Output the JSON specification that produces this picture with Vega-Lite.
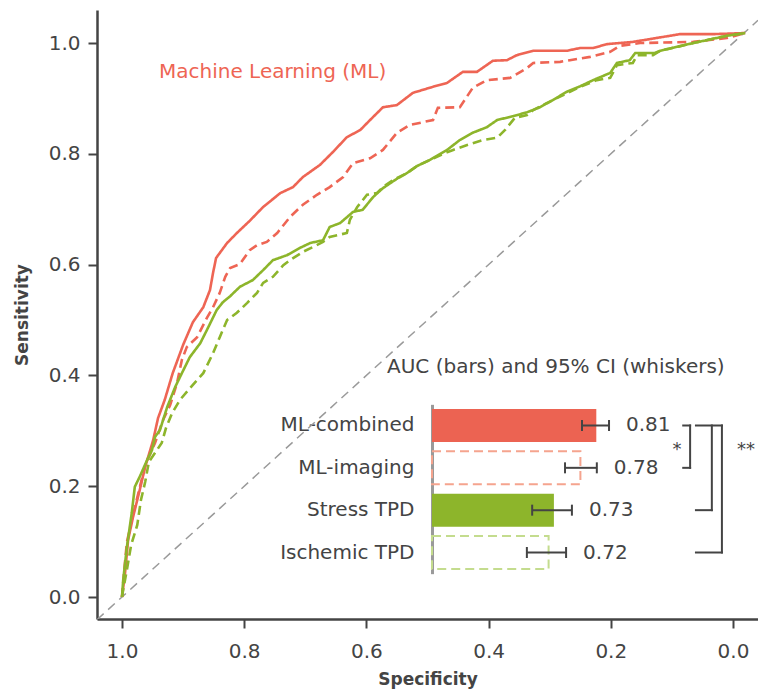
{
  "$schema": "https://vega.github.io/schema/vega-lite/v6.json",
  "width": 661,
  "height": 609,
  "autosize": "none",
  "padding": {"left": 97, "top": 10, "right": 0, "bottom": 77},
  "background": "white",
  "config": {
    "view": {"stroke": null},
    "font": "DejaVu Sans",
    "text": {"font": "DejaVu Sans"},
    "axis": {"labelFont": "DejaVu Sans", "titleFont": "DejaVu Sans"}
  },
  "datasets": {
    "roc": [
      {"model": "ML-combined", "spec": 1.000, "sens": 0.000},
      {"model": "ML-combined", "spec": 0.995, "sens": 0.043},
      {"model": "ML-combined", "spec": 0.990, "sens": 0.103},
      {"model": "ML-combined", "spec": 0.982, "sens": 0.144},
      {"model": "ML-combined", "spec": 0.971, "sens": 0.193},
      {"model": "ML-combined", "spec": 0.962, "sens": 0.235},
      {"model": "ML-combined", "spec": 0.949, "sens": 0.283},
      {"model": "ML-combined", "spec": 0.941, "sens": 0.323},
      {"model": "ML-combined", "spec": 0.930, "sens": 0.356},
      {"model": "ML-combined", "spec": 0.917, "sens": 0.404},
      {"model": "ML-combined", "spec": 0.900, "sens": 0.455},
      {"model": "ML-combined", "spec": 0.884, "sens": 0.496},
      {"model": "ML-combined", "spec": 0.867, "sens": 0.523},
      {"model": "ML-combined", "spec": 0.856, "sens": 0.554},
      {"model": "ML-combined", "spec": 0.851, "sens": 0.585},
      {"model": "ML-combined", "spec": 0.846, "sens": 0.612},
      {"model": "ML-combined", "spec": 0.828, "sens": 0.639},
      {"model": "ML-combined", "spec": 0.812, "sens": 0.657},
      {"model": "ML-combined", "spec": 0.791, "sens": 0.679},
      {"model": "ML-combined", "spec": 0.769, "sens": 0.704},
      {"model": "ML-combined", "spec": 0.741, "sens": 0.729},
      {"model": "ML-combined", "spec": 0.720, "sens": 0.740},
      {"model": "ML-combined", "spec": 0.704, "sens": 0.758},
      {"model": "ML-combined", "spec": 0.676, "sens": 0.780},
      {"model": "ML-combined", "spec": 0.655, "sens": 0.803},
      {"model": "ML-combined", "spec": 0.632, "sens": 0.830},
      {"model": "ML-combined", "spec": 0.610, "sens": 0.843},
      {"model": "ML-combined", "spec": 0.594, "sens": 0.861},
      {"model": "ML-combined", "spec": 0.573, "sens": 0.884},
      {"model": "ML-combined", "spec": 0.550, "sens": 0.888},
      {"model": "ML-combined", "spec": 0.524, "sens": 0.910},
      {"model": "ML-combined", "spec": 0.491, "sens": 0.921},
      {"model": "ML-combined", "spec": 0.468, "sens": 0.928},
      {"model": "ML-combined", "spec": 0.442, "sens": 0.948},
      {"model": "ML-combined", "spec": 0.419, "sens": 0.948},
      {"model": "ML-combined", "spec": 0.393, "sens": 0.968},
      {"model": "ML-combined", "spec": 0.370, "sens": 0.969},
      {"model": "ML-combined", "spec": 0.354, "sens": 0.978},
      {"model": "ML-combined", "spec": 0.327, "sens": 0.986},
      {"model": "ML-combined", "spec": 0.272, "sens": 0.986},
      {"model": "ML-combined", "spec": 0.250, "sens": 0.991},
      {"model": "ML-combined", "spec": 0.229, "sens": 0.991},
      {"model": "ML-combined", "spec": 0.206, "sens": 0.998},
      {"model": "ML-combined", "spec": 0.164, "sens": 1.002},
      {"model": "ML-combined", "spec": 0.087, "sens": 1.016},
      {"model": "ML-combined", "spec": 0.033, "sens": 1.016},
      {"model": "ML-combined", "spec": -0.020, "sens": 1.018},

      {"model": "ML-imaging", "spec": 1.000, "sens": 0.000},
      {"model": "ML-imaging", "spec": 0.997, "sens": 0.040},
      {"model": "ML-imaging", "spec": 0.992, "sens": 0.099},
      {"model": "ML-imaging", "spec": 0.984, "sens": 0.139},
      {"model": "ML-imaging", "spec": 0.974, "sens": 0.184},
      {"model": "ML-imaging", "spec": 0.962, "sens": 0.238},
      {"model": "ML-imaging", "spec": 0.946, "sens": 0.278},
      {"model": "ML-imaging", "spec": 0.933, "sens": 0.319},
      {"model": "ML-imaging", "spec": 0.921, "sens": 0.347},
      {"model": "ML-imaging", "spec": 0.910, "sens": 0.386},
      {"model": "ML-imaging", "spec": 0.902, "sens": 0.428},
      {"model": "ML-imaging", "spec": 0.894, "sens": 0.451},
      {"model": "ML-imaging", "spec": 0.877, "sens": 0.469},
      {"model": "ML-imaging", "spec": 0.861, "sens": 0.504},
      {"model": "ML-imaging", "spec": 0.851, "sens": 0.523},
      {"model": "ML-imaging", "spec": 0.840, "sens": 0.549},
      {"model": "ML-imaging", "spec": 0.831, "sens": 0.578},
      {"model": "ML-imaging", "spec": 0.823, "sens": 0.594},
      {"model": "ML-imaging", "spec": 0.807, "sens": 0.601},
      {"model": "ML-imaging", "spec": 0.791, "sens": 0.626},
      {"model": "ML-imaging", "spec": 0.779, "sens": 0.635},
      {"model": "ML-imaging", "spec": 0.763, "sens": 0.641},
      {"model": "ML-imaging", "spec": 0.746, "sens": 0.657},
      {"model": "ML-imaging", "spec": 0.725, "sens": 0.686},
      {"model": "ML-imaging", "spec": 0.704, "sens": 0.708},
      {"model": "ML-imaging", "spec": 0.681, "sens": 0.726},
      {"model": "ML-imaging", "spec": 0.660, "sens": 0.740},
      {"model": "ML-imaging", "spec": 0.638, "sens": 0.758},
      {"model": "ML-imaging", "spec": 0.622, "sens": 0.783},
      {"model": "ML-imaging", "spec": 0.594, "sens": 0.792},
      {"model": "ML-imaging", "spec": 0.573, "sens": 0.807},
      {"model": "ML-imaging", "spec": 0.550, "sens": 0.838},
      {"model": "ML-imaging", "spec": 0.529, "sens": 0.852},
      {"model": "ML-imaging", "spec": 0.491, "sens": 0.861},
      {"model": "ML-imaging", "spec": 0.483, "sens": 0.883},
      {"model": "ML-imaging", "spec": 0.447, "sens": 0.884},
      {"model": "ML-imaging", "spec": 0.426, "sens": 0.919},
      {"model": "ML-imaging", "spec": 0.403, "sens": 0.933},
      {"model": "ML-imaging", "spec": 0.365, "sens": 0.937},
      {"model": "ML-imaging", "spec": 0.337, "sens": 0.955},
      {"model": "ML-imaging", "spec": 0.327, "sens": 0.964},
      {"model": "ML-imaging", "spec": 0.283, "sens": 0.966},
      {"model": "ML-imaging", "spec": 0.267, "sens": 0.969},
      {"model": "ML-imaging", "spec": 0.234, "sens": 0.975},
      {"model": "ML-imaging", "spec": 0.201, "sens": 0.984},
      {"model": "ML-imaging", "spec": 0.185, "sens": 0.995},
      {"model": "ML-imaging", "spec": 0.152, "sens": 1.000},
      {"model": "ML-imaging", "spec": 0.065, "sens": 1.002},
      {"model": "ML-imaging", "spec": 0.010, "sens": 1.009},
      {"model": "ML-imaging", "spec": -0.020, "sens": 1.018},

      {"model": "Stress TPD", "spec": 1.000, "sens": 0.000},
      {"model": "Stress TPD", "spec": 0.998, "sens": 0.031},
      {"model": "Stress TPD", "spec": 0.992, "sens": 0.090},
      {"model": "Stress TPD", "spec": 0.984, "sens": 0.152},
      {"model": "Stress TPD", "spec": 0.979, "sens": 0.199},
      {"model": "Stress TPD", "spec": 0.971, "sens": 0.217},
      {"model": "Stress TPD", "spec": 0.959, "sens": 0.247},
      {"model": "Stress TPD", "spec": 0.951, "sens": 0.265},
      {"model": "Stress TPD", "spec": 0.946, "sens": 0.289},
      {"model": "Stress TPD", "spec": 0.938, "sens": 0.301},
      {"model": "Stress TPD", "spec": 0.926, "sens": 0.343},
      {"model": "Stress TPD", "spec": 0.913, "sens": 0.379},
      {"model": "Stress TPD", "spec": 0.902, "sens": 0.404},
      {"model": "Stress TPD", "spec": 0.889, "sens": 0.433},
      {"model": "Stress TPD", "spec": 0.872, "sens": 0.458},
      {"model": "Stress TPD", "spec": 0.861, "sens": 0.482},
      {"model": "Stress TPD", "spec": 0.845, "sens": 0.518},
      {"model": "Stress TPD", "spec": 0.835, "sens": 0.532},
      {"model": "Stress TPD", "spec": 0.823, "sens": 0.543},
      {"model": "Stress TPD", "spec": 0.807, "sens": 0.560},
      {"model": "Stress TPD", "spec": 0.786, "sens": 0.572},
      {"model": "Stress TPD", "spec": 0.769, "sens": 0.590},
      {"model": "Stress TPD", "spec": 0.753, "sens": 0.608},
      {"model": "Stress TPD", "spec": 0.730, "sens": 0.617},
      {"model": "Stress TPD", "spec": 0.709, "sens": 0.630},
      {"model": "Stress TPD", "spec": 0.692, "sens": 0.639},
      {"model": "Stress TPD", "spec": 0.671, "sens": 0.644},
      {"model": "Stress TPD", "spec": 0.660, "sens": 0.668},
      {"model": "Stress TPD", "spec": 0.643, "sens": 0.675},
      {"model": "Stress TPD", "spec": 0.622, "sens": 0.695},
      {"model": "Stress TPD", "spec": 0.606, "sens": 0.699},
      {"model": "Stress TPD", "spec": 0.589, "sens": 0.722},
      {"model": "Stress TPD", "spec": 0.573, "sens": 0.738},
      {"model": "Stress TPD", "spec": 0.550, "sens": 0.755},
      {"model": "Stress TPD", "spec": 0.534, "sens": 0.765},
      {"model": "Stress TPD", "spec": 0.517, "sens": 0.778},
      {"model": "Stress TPD", "spec": 0.496, "sens": 0.789},
      {"model": "Stress TPD", "spec": 0.468, "sens": 0.807},
      {"model": "Stress TPD", "spec": 0.447, "sens": 0.825},
      {"model": "Stress TPD", "spec": 0.426, "sens": 0.838},
      {"model": "Stress TPD", "spec": 0.403, "sens": 0.848},
      {"model": "Stress TPD", "spec": 0.386, "sens": 0.861},
      {"model": "Stress TPD", "spec": 0.360, "sens": 0.868},
      {"model": "Stress TPD", "spec": 0.337, "sens": 0.875},
      {"model": "Stress TPD", "spec": 0.316, "sens": 0.884},
      {"model": "Stress TPD", "spec": 0.295, "sens": 0.897},
      {"model": "Stress TPD", "spec": 0.272, "sens": 0.912},
      {"model": "Stress TPD", "spec": 0.250, "sens": 0.922},
      {"model": "Stress TPD", "spec": 0.229, "sens": 0.933},
      {"model": "Stress TPD", "spec": 0.201, "sens": 0.946},
      {"model": "Stress TPD", "spec": 0.190, "sens": 0.964},
      {"model": "Stress TPD", "spec": 0.169, "sens": 0.969},
      {"model": "Stress TPD", "spec": 0.160, "sens": 0.982},
      {"model": "Stress TPD", "spec": 0.128, "sens": 0.982},
      {"model": "Stress TPD", "spec": 0.119, "sens": 0.986},
      {"model": "Stress TPD", "spec": 0.065, "sens": 1.000},
      {"model": "Stress TPD", "spec": 0.010, "sens": 1.013},
      {"model": "Stress TPD", "spec": -0.020, "sens": 1.018},

      {"model": "Ischemic TPD", "spec": 1.000, "sens": 0.000},
      {"model": "Ischemic TPD", "spec": 0.998, "sens": 0.013},
      {"model": "Ischemic TPD", "spec": 0.992, "sens": 0.049},
      {"model": "Ischemic TPD", "spec": 0.985, "sens": 0.094},
      {"model": "Ischemic TPD", "spec": 0.975, "sens": 0.130},
      {"model": "Ischemic TPD", "spec": 0.969, "sens": 0.175},
      {"model": "Ischemic TPD", "spec": 0.962, "sens": 0.208},
      {"model": "Ischemic TPD", "spec": 0.956, "sens": 0.244},
      {"model": "Ischemic TPD", "spec": 0.943, "sens": 0.265},
      {"model": "Ischemic TPD", "spec": 0.935, "sens": 0.278},
      {"model": "Ischemic TPD", "spec": 0.928, "sens": 0.305},
      {"model": "Ischemic TPD", "spec": 0.918, "sens": 0.332},
      {"model": "Ischemic TPD", "spec": 0.905, "sens": 0.356},
      {"model": "Ischemic TPD", "spec": 0.884, "sens": 0.383},
      {"model": "Ischemic TPD", "spec": 0.867, "sens": 0.404},
      {"model": "Ischemic TPD", "spec": 0.851, "sens": 0.440},
      {"model": "Ischemic TPD", "spec": 0.840, "sens": 0.469},
      {"model": "Ischemic TPD", "spec": 0.828, "sens": 0.500},
      {"model": "Ischemic TPD", "spec": 0.812, "sens": 0.513},
      {"model": "Ischemic TPD", "spec": 0.795, "sens": 0.531},
      {"model": "Ischemic TPD", "spec": 0.779, "sens": 0.549},
      {"model": "Ischemic TPD", "spec": 0.769, "sens": 0.567},
      {"model": "Ischemic TPD", "spec": 0.753, "sens": 0.578},
      {"model": "Ischemic TPD", "spec": 0.736, "sens": 0.599},
      {"model": "Ischemic TPD", "spec": 0.725, "sens": 0.608},
      {"model": "Ischemic TPD", "spec": 0.704, "sens": 0.623},
      {"model": "Ischemic TPD", "spec": 0.687, "sens": 0.632},
      {"model": "Ischemic TPD", "spec": 0.671, "sens": 0.641},
      {"model": "Ischemic TPD", "spec": 0.660, "sens": 0.650},
      {"model": "Ischemic TPD", "spec": 0.632, "sens": 0.657},
      {"model": "Ischemic TPD", "spec": 0.627, "sens": 0.681},
      {"model": "Ischemic TPD", "spec": 0.615, "sens": 0.704},
      {"model": "Ischemic TPD", "spec": 0.599, "sens": 0.726},
      {"model": "Ischemic TPD", "spec": 0.583, "sens": 0.729},
      {"model": "Ischemic TPD", "spec": 0.573, "sens": 0.740},
      {"model": "Ischemic TPD", "spec": 0.556, "sens": 0.753},
      {"model": "Ischemic TPD", "spec": 0.534, "sens": 0.765},
      {"model": "Ischemic TPD", "spec": 0.517, "sens": 0.778},
      {"model": "Ischemic TPD", "spec": 0.496, "sens": 0.789},
      {"model": "Ischemic TPD", "spec": 0.468, "sens": 0.803},
      {"model": "Ischemic TPD", "spec": 0.458, "sens": 0.807},
      {"model": "Ischemic TPD", "spec": 0.435, "sens": 0.816},
      {"model": "Ischemic TPD", "spec": 0.409, "sens": 0.825},
      {"model": "Ischemic TPD", "spec": 0.386, "sens": 0.829},
      {"model": "Ischemic TPD", "spec": 0.373, "sens": 0.843},
      {"model": "Ischemic TPD", "spec": 0.357, "sens": 0.865},
      {"model": "Ischemic TPD", "spec": 0.337, "sens": 0.870},
      {"model": "Ischemic TPD", "spec": 0.327, "sens": 0.879},
      {"model": "Ischemic TPD", "spec": 0.295, "sens": 0.897},
      {"model": "Ischemic TPD", "spec": 0.250, "sens": 0.921},
      {"model": "Ischemic TPD", "spec": 0.223, "sens": 0.933},
      {"model": "Ischemic TPD", "spec": 0.201, "sens": 0.937},
      {"model": "Ischemic TPD", "spec": 0.190, "sens": 0.960},
      {"model": "Ischemic TPD", "spec": 0.164, "sens": 0.964},
      {"model": "Ischemic TPD", "spec": 0.157, "sens": 0.978},
      {"model": "Ischemic TPD", "spec": 0.131, "sens": 0.978},
      {"model": "Ischemic TPD", "spec": 0.119, "sens": 0.986},
      {"model": "Ischemic TPD", "spec": 0.065, "sens": 1.000},
      {"model": "Ischemic TPD", "spec": 0.010, "sens": 1.013},
      {"model": "Ischemic TPD", "spec": -0.020, "sens": 1.018}
    ],
    "diag": [
      {"spec": 1.0409, "sens": -0.0409},
      {"spec": -0.0409, "sens": 1.0409}
    ],
    "notes": [
      {"text": "Machine Learning (ML)", "spec": 0.9394, "sens": 0.9477, "kind": "ml"},
      {"text": "AUC (bars) and 95% CI (whiskers)", "spec": 0.5663, "sens": 0.4152, "kind": "title"}
    ],
    "stars": [
      {"text": "*", "spec": 0.0917, "sens": 0.256},
      {"text": "**", "spec": -0.0213, "sens": 0.256}
    ],
    "auc": [
      {"model": "ML-combined", "auc": 0.81, "lo": 0.783, "hi": 0.834},
      {"model": "ML-imaging", "auc": 0.78, "lo": 0.751, "hi": 0.811},
      {"model": "Stress TPD", "auc": 0.73, "lo": 0.689, "hi": 0.764},
      {"model": "Ischemic TPD", "auc": 0.72, "lo": 0.679, "hi": 0.753}
    ],
    "hseg": [
      {"x": 0.974, "x2": 0.987, "model": "ML-combined"},
      {"x": 0.974, "x2": 0.987, "model": "ML-imaging"},
      {"x": 0.998, "x2": 1.047, "model": "ML-combined"},
      {"x": 0.998, "x2": 1.028, "model": "Stress TPD"},
      {"x": 0.998, "x2": 1.047, "model": "Ischemic TPD"}
    ],
    "vseg": [
      {"x": 0.987, "m1": "ML-combined", "m2": "ML-imaging"},
      {"x": 1.028, "m1": "ML-combined", "m2": "Stress TPD"},
      {"x": 1.047, "m1": "ML-combined", "m2": "Ischemic TPD"}
    ]
  },
  "layer": [
    {
      "layer": [
        {
          "data": {"name": "diag"},
          "mark": {"type": "line", "color": "#9a9a9a", "strokeWidth": 1.5, "strokeDash": [9, 6], "clip": true},
          "encoding": {
            "x": {"field": "spec", "type": "quantitative",
              "scale": {"domain": [-0.0409, 1.0409], "reverse": true, "nice": false, "zero": false},
              "axis": {"values": [0, 0.2, 0.4, 0.6, 0.8, 1.0], "format": ".1f", "title": "Specificity", "grid": false,
                "domainColor": "#444", "domainWidth": 2.5, "tickColor": "#444", "tickWidth": 2, "tickSize": 9,
                "labelFontSize": 20, "labelColor": "#444", "labelPadding": 13, "labelFlush": false,
                "titleFontSize": 17, "titleFontWeight": "bold", "titleColor": "#444", "titlePadding": 10}},
            "y": {"field": "sens", "type": "quantitative",
              "scale": {"domain": [-0.0397, 1.0596], "nice": false, "zero": false},
              "axis": {"values": [0, 0.2, 0.4, 0.6, 0.8, 1.0], "format": ".1f", "title": "Sensitivity", "grid": false,
                "domainColor": "#444", "domainWidth": 2.5, "tickColor": "#444", "tickWidth": 2, "tickSize": 9,
                "labelFontSize": 20, "labelColor": "#444", "labelPadding": 8, "labelFlush": false,
                "titleFontSize": 17, "titleFontWeight": "bold", "titleColor": "#444", "titlePadding": 17}}
          }
        },
        {
          "data": {"name": "roc"},
          "mark": {"type": "line", "strokeWidth": 2.6, "clip": true},
          "encoding": {
            "x": {"field": "spec", "type": "quantitative"},
            "y": {"field": "sens", "type": "quantitative"},
            "color": {"field": "model", "type": "nominal", "legend": null,
              "scale": {"domain": ["ML-combined", "ML-imaging", "Stress TPD", "Ischemic TPD"],
                "range": ["#EE6554", "#EE6554", "#8DB52B", "#8DB52B"]}},
            "strokeDash": {"field": "model", "type": "nominal", "legend": null,
              "scale": {"domain": ["ML-combined", "ML-imaging", "Stress TPD", "Ischemic TPD"],
                "range": [[1, 0], [9, 5], [1, 0], [9, 5]]}}
          }
        },
        {
          "mark": {"type": "rule", "color": "#444", "strokeWidth": 2.5},
          "encoding": {"y": {"datum": 1.0596, "type": "quantitative"}}
        },
        {
          "data": {"name": "notes"},
          "transform": [{"filter": "datum.kind === 'ml'"}],
          "mark": {"type": "text", "align": "left", "baseline": "middle", "fontSize": 20, "color": "#EE6554"},
          "encoding": {
            "x": {"field": "spec", "type": "quantitative"},
            "y": {"field": "sens", "type": "quantitative"},
            "text": {"field": "text"}
          }
        },
        {
          "data": {"name": "notes"},
          "transform": [{"filter": "datum.kind === 'title'"}],
          "mark": {"type": "text", "align": "left", "baseline": "middle", "fontSize": 20, "color": "#444"},
          "encoding": {
            "x": {"field": "spec", "type": "quantitative"},
            "y": {"field": "sens", "type": "quantitative"},
            "text": {"field": "text"}
          }
        },
        {
          "data": {"name": "stars"},
          "mark": {"type": "text", "align": "center", "baseline": "alphabetic", "fontSize": 18, "color": "#444"},
          "encoding": {
            "x": {"field": "spec", "type": "quantitative"},
            "y": {"field": "sens", "type": "quantitative"},
            "text": {"field": "text"}
          }
        }
      ]
    },
    {
      "layer": [
        {
          "data": {"name": "auc"},
          "transform": [{"filter": {"field": "model", "oneOf": ["ML-combined", "Stress TPD"]}}],
          "mark": {"type": "bar"},
          "encoding": {
            "y": {"field": "model", "type": "nominal",
              "scale": {"domain": ["ML-combined", "ML-imaging", "Stress TPD", "Ischemic TPD"],
                "range": [394.33, 563.67], "paddingInner": 0.22, "paddingOuter": 0.11},
              "axis": {"orient": "left", "offset": -335, "title": null, "ticks": false, "tickSize": 0,
                "domainColor": "#9a9a9a", "domainWidth": 3, "labelFontSize": 20, "labelColor": "#444",
                "labelPadding": 18, "grid": false}},
            "x": {"field": "auc", "type": "quantitative",
              "scale": {"domain": [0.5, 1.0], "range": [335, 600], "nice": false, "zero": false},
              "axis": null},
            "x2": {"datum": 0.5},
            "fill": {"field": "model", "type": "nominal", "legend": null,
              "scale": {"domain": ["ML-combined", "ML-imaging", "Stress TPD", "Ischemic TPD"],
                "range": ["#EC6352", "#F5A48E", "#8DB52B", "#C4DC8E"]}}
          }
        },
        {
          "data": {"name": "auc"},
          "transform": [{"filter": {"field": "model", "oneOf": ["ML-imaging", "Ischemic TPD"]}}],
          "mark": {"type": "bar", "fill": null, "fillOpacity": 0, "strokeWidth": 2, "strokeDash": [9, 5]},
          "encoding": {
            "y": {"field": "model", "type": "nominal"},
            "x": {"field": "auc", "type": "quantitative"},
            "x2": {"datum": 0.5},
            "stroke": {"field": "model", "type": "nominal", "legend": null,
              "scale": {"domain": ["ML-combined", "ML-imaging", "Stress TPD", "Ischemic TPD"],
                "range": ["#EC6352", "#F5A48E", "#8DB52B", "#C4DC8E"]}}
          }
        },
        {
          "data": {"name": "auc"},
          "mark": {"type": "rule", "color": "#444", "strokeWidth": 2},
          "encoding": {
            "y": {"field": "model", "type": "nominal"},
            "x": {"field": "lo", "type": "quantitative"},
            "x2": {"field": "hi"}
          }
        },
        {
          "data": {"name": "auc"},
          "mark": {"type": "tick", "color": "#444", "thickness": 2, "size": 11, "opacity": 1},
          "encoding": {
            "y": {"field": "model", "type": "nominal"},
            "x": {"field": "lo", "type": "quantitative"}
          }
        },
        {
          "data": {"name": "auc"},
          "mark": {"type": "tick", "color": "#444", "thickness": 2, "size": 11, "opacity": 1},
          "encoding": {
            "y": {"field": "model", "type": "nominal"},
            "x": {"field": "hi", "type": "quantitative"}
          }
        },
        {
          "data": {"name": "auc"},
          "mark": {"type": "text", "align": "left", "baseline": "middle", "dx": 17, "fontSize": 20, "color": "#444"},
          "encoding": {
            "y": {"field": "model", "type": "nominal"},
            "x": {"field": "hi", "type": "quantitative"},
            "text": {"field": "auc", "type": "quantitative", "format": ".2f"}
          }
        },
        {
          "data": {"name": "hseg"},
          "mark": {"type": "rule", "color": "#444", "strokeWidth": 2, "strokeCap": "square"},
          "encoding": {
            "y": {"field": "model", "type": "nominal"},
            "x": {"field": "x", "type": "quantitative"},
            "x2": {"field": "x2"}
          }
        },
        {
          "data": {"name": "vseg"},
          "mark": {"type": "rule", "color": "#444", "strokeWidth": 2, "strokeCap": "square"},
          "encoding": {
            "y": {"field": "m1", "type": "nominal"},
            "y2": {"field": "m2"},
            "x": {"field": "x", "type": "quantitative"}
          }
        }
      ]
    }
  ],
  "resolve": {
    "scale": {"x": "independent", "y": "independent"},
    "axis": {"x": "independent", "y": "independent"}
  }
}
